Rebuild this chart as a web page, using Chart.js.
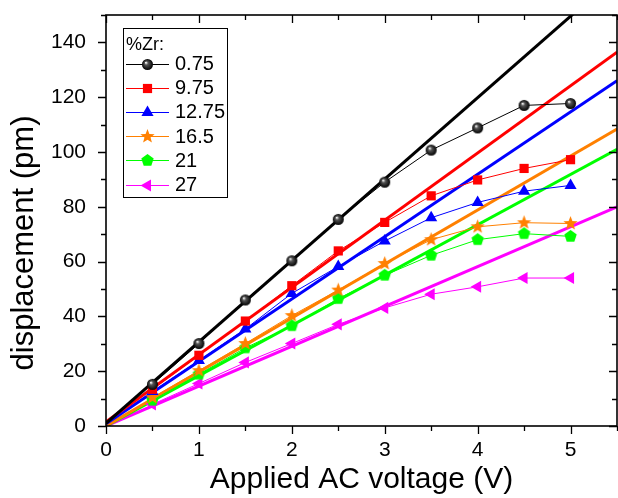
<!DOCTYPE html>
<html>
<head>
<meta charset="utf-8">
<script src="https://cdn.jsdelivr.net/npm/chart.js@4.4.0/dist/chart.umd.min.js"></script>
<style>
  html, body { margin: 0; padding: 0; background: #fff; }
  canvas { display: block; }
</style>
</head>
<body>
<canvas id="chart" width="618" height="498"></canvas>
<script>
// values: displacement (pm) vs applied AC voltage (V)
const voltage = [0.5, 1, 1.5, 2, 2.5, 3, 3.5, 4, 4.5, 5];
const zr075  = [15.2, 30.1, 46.0, 60.3, 75.4, 89.0, 100.7, 108.8, 117.0, 117.7];
const zr975  = [13.4, 25.8, 38.3, 51.2, 63.9, 74.3, 84.0, 89.8, 94.0, 97.2];
const zr1275 = [12.6, 23.9, 35.4, 48.4, 58.2, 67.5, 76.0, 81.6, 85.7, 87.8];
const zr165  = [10.4, 20.2, 30.1, 40.3, 49.6, 59.3, 68.0, 72.7, 74.2, 73.9];
const zr21   = [9.4, 18.9, 28.5, 36.6, 46.5, 55.0, 62.3, 68.0, 70.2, 69.2];
const zr27   = [7.9, 15.5, 23.2, 30.1, 37.1, 43.1, 48.1, 50.8, 54.0, 54.0];

// straight fit lines, end points at 0 V and 5.5 V
const fitVoltage = [0, 5.5];
const fit075  = [1.0, 164.4];
const fit975  = [1.5, 136.4];
const fit1275 = [0.8, 126.0];
const fit165  = [0.0, 108.4];
const fit21   = [0.0, 101.0];
const fit27   = [0.0, 80.0];

const zrLabels = ['0.75', '9.75', '12.75', '16.5', '21', '27'];
const zrColors = ['#000000', '#ff0000', '#0000ff', '#ff8000', '#00ff00', '#ff00ff'];

const FONT = "'Liberation Sans', Arial, sans-serif";

// custom marker images
function sphere(r) {
  const c = document.createElement('canvas');
  c.width = c.height = 2 * r + 2;
  const g = c.getContext('2d');
  const m = r + 1;
  const grad = g.createRadialGradient(m - r * 0.3, m - r * 0.35, 0.3, m, m, r);
  grad.addColorStop(0, '#ffffff');
  grad.addColorStop(0.3, '#555555');
  grad.addColorStop(1, '#000000');
  g.fillStyle = grad;
  g.beginPath();
  g.arc(m, m, r, 0, Math.PI * 2);
  g.fill();
  return c;
}

function polyStar(color, n, outer, inner) {
  const c = document.createElement('canvas');
  c.width = c.height = Math.ceil(2 * outer + 2);
  const g = c.getContext('2d');
  const m = c.width / 2;
  g.fillStyle = color;
  g.beginPath();
  const pts = inner ? n * 2 : n;
  for (let i = 0; i < pts; i++) {
    const rr = inner && i % 2 ? inner : outer;
    const a = -Math.PI / 2 + i * Math.PI * 2 / pts;
    const x = m + rr * Math.cos(a), y = m + rr * Math.sin(a);
    if (i === 0) g.moveTo(x, y); else g.lineTo(x, y);
  }
  g.closePath();
  g.fill();
  return c;
}

const markers = [
  { pointStyle: sphere(5.5), rotation: 0, radius: 6 },
  { pointStyle: 'rect', rotation: 0, radius: 6.5 },
  { pointStyle: 'triangle', rotation: 0, radius: 7 },
  { pointStyle: polyStar('#ff8000', 5, 7.5, 3.2), rotation: 0, radius: 7 },
  { pointStyle: polyStar('#00ff00', 5, 6.5), rotation: 0, radius: 6 },
  { pointStyle: 'triangle', rotation: -90, radius: 7 }
];

const seriesList = [zr075, zr975, zr1275, zr165, zr21, zr27];
const fitList = [fit075, fit975, fit1275, fit165, fit21, fit27];

const datasets = [];
seriesList.forEach((s, i) => {
  datasets.push({
    label: zrLabels[i],
    data: voltage.map((v, k) => ({ x: v, y: s[k] })),
    borderColor: zrColors[i],
    backgroundColor: zrColors[i],
    borderWidth: 1,
    pointStyle: markers[i].pointStyle,
    rotation: markers[i].rotation,
    pointRadius: markers[i].radius,
    pointBorderWidth: 0,
    pointBackgroundColor: zrColors[i],
    order: 0
  });
});
fitList.forEach((f, i) => {
  datasets.push({
    label: 'fit ' + zrLabels[i],
    isFit: true,
    data: fitVoltage.map((v, k) => ({ x: v, y: f[k] })),
    borderColor: zrColors[i],
    borderWidth: 3,
    pointRadius: 0,
    order: 1
  });
});

// frame, minor ticks, legend and axis titles
const framePlugin = {
  id: 'frame',
  afterDraw(chart) {
    const { ctx, chartArea: a, scales } = chart;
    const xs = scales.x, ys = scales.y;
    ctx.save();
    ctx.strokeStyle = '#000';
    ctx.lineWidth = 1.6;
    ctx.strokeRect(a.left, a.top, a.right - a.left, a.bottom - a.top);

    ctx.lineWidth = 1.3;
    ctx.beginPath();
    for (let v = 0; v <= 5.5001; v += 0.5) {
      const px = Math.round(xs.getPixelForValue(v)) + 0.5;
      const len = Math.abs(v - Math.round(v)) < 1e-6 ? 8 : 5;
      ctx.moveTo(px, a.bottom); ctx.lineTo(px, a.bottom + len);
      ctx.moveTo(px, a.top); ctx.lineTo(px, a.top + len);
    }
    for (let v = 0; v <= 150; v += 10) {
      const py = Math.round(ys.getPixelForValue(v)) + 0.5;
      const len = v % 20 === 0 ? 8 : 5;
      ctx.moveTo(a.left, py); ctx.lineTo(a.left - len, py);
      ctx.moveTo(a.right, py); ctx.lineTo(a.right - len, py);
    }
    ctx.stroke();

    // legend
    const bx = 123, by = 28, bw = 104, bh = 169;
    ctx.fillStyle = '#fff';
    ctx.fillRect(bx, by, bw, bh);
    ctx.lineWidth = 1;
    ctx.strokeRect(bx + 0.5, by + 0.5, bw, bh);
    ctx.fillStyle = '#000';
    ctx.font = '18px ' + FONT;
    ctx.textBaseline = 'middle';
    ctx.textAlign = 'left';
    ctx.fillText('%Zr:', 126, 45);
    ctx.font = '20px ' + FONT;
    chart.data.datasets.forEach((ds, i) => {
      if (ds.isFit) return;
      const y = 63.5 + i * 24.2;
      ctx.strokeStyle = ds.borderColor;
      ctx.lineWidth = 1;
      ctx.beginPath();
      ctx.moveTo(126, Math.round(y) + 0.5);
      ctx.lineTo(169, Math.round(y) + 0.5);
      ctx.stroke();
      ctx.fillStyle = ds.backgroundColor;
      Chart.helpers.drawPoint(ctx, {
        pointStyle: ds.pointStyle, rotation: ds.rotation,
        radius: ds.pointRadius, borderWidth: 0
      }, 147.5, Math.round(y) + 0.5);
      ctx.fillStyle = '#000';
      ctx.fillText(ds.label, 175, y + 1);
    });

    // axis titles
    ctx.font = '30px ' + FONT;
    ctx.textAlign = 'center';
    ctx.textBaseline = 'alphabetic';
    ctx.fillText('Applied AC voltage (V)', (a.left + a.right) / 2, 488);
    ctx.font = '31px ' + FONT;
    ctx.translate(33, 243);
    ctx.rotate(-Math.PI / 2);
    ctx.fillText('displacement (pm)', 0, 0);
    ctx.restore();
  }
};

new Chart(document.getElementById('chart'), {
  type: 'line',
  data: { datasets },
  options: {
    responsive: false,
    animation: false,
    layout: { autoPadding: false, padding: { top: 15, right: 1, left: 0, bottom: 0 } },
    plugins: { legend: { display: false }, tooltip: { enabled: false } },
    scales: {
      x: {
        type: 'linear', min: 0, max: 5.5,
        grid: { display: false }, border: { display: false },
        ticks: { stepSize: 1, includeBounds: false, color: '#000', padding: 4, maxRotation: 0,
                 font: { family: FONT, size: 21 } },
        afterFit(scale) {
          scale.height = 72;
          scale.paddingLeft = 0; scale.paddingRight = 0;
        }
      },
      y: {
        min: 0, max: 150,
        grid: { display: false }, border: { display: false },
        ticks: { stepSize: 20, includeBounds: false, color: '#000', padding: 12,
                 font: { family: FONT, size: 21 } },
        afterFit(scale) {
          scale.width = 106;
          scale.paddingTop = 0; scale.paddingBottom = 0;
        }
      }
    }
  },
  plugins: [framePlugin]
});
</script>
</body>
</html>
